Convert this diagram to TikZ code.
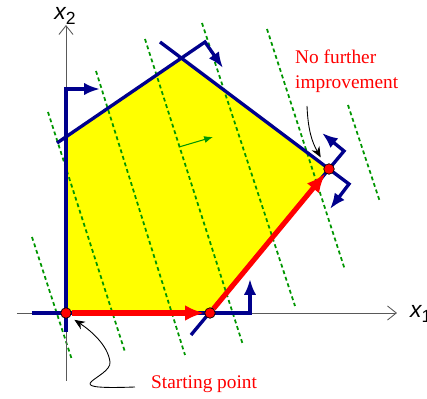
\documentclass[tikz,border=0pt]{standalone}
\usepackage{fontspec}
\setmainfont{Liberation Serif}
\newfontfamily\axisfont{Liberation Sans}
\usetikzlibrary{arrows.meta, calc}
\definecolor{boundblue}{RGB}{0,0,140}
\definecolor{isogreen}{RGB}{0,150,0}
\definecolor{regionyellow}{RGB}{255,255,0}
\tikzset{
    axis/.style={black!65, line width=0.5pt, -{Straight Barb[length=5pt,width=8pt]}},
    bound/.style={boundblue, line width=1.9pt},
    boundarrow/.style={bound, -{Latex[length=9pt,width=7pt]}},
    isoline/.style={isogreen, line width=1pt, dash pattern=on 2.2pt off 1.7pt},
    move/.style={red, line width=2.9pt, -{Latex[length=11pt,width=9pt]}},
    vertexdot/.style={circle, fill=red, draw=black, line width=0.4pt,
        inner sep=0pt, minimum size=6pt},
    note/.style={black, line width=0.5pt, -{Stealth[length=6pt,width=5pt]}},
    notetext/.style={red, font=\fontsize{11}{14}\selectfont},
}
\newcommand{\axislabel}[1]{%
    {\axisfont\itshape x}\raisebox{-0.5ex}{\axisfont\fontsize{10}{10}\selectfont #1}%
}

\begin{document}
\begin{tikzpicture}[x=0.02cm, y=-0.02cm]
    \useasboundingbox (0,0) rectangle (427,399);
    % corners of the feasible region
    \coordinate (O) at (66,313);
    \coordinate (B) at (210,313);
    \coordinate (C) at (329,169);
    \coordinate (D) at (182,58);
    \coordinate (E) at (66,137);
    \fill[regionyellow] (O) -- (B) -- (C) -- (D) -- (E) -- cycle;
    % objective isolines
    \foreach \xa/\ya/\xb/\yb in {32/237/72/360, 48/112/125/352, 96/71/185/355,
        145/39/243/345, 202/23/295/306, 267/29/345/270, 348/105/380/202}
        \draw[isoline] (\xa,\ya) -- (\xb,\yb);
    \coordinate (gradtail) at (179,147);
    \coordinate (gradhead) at (213,137);
    \draw[isogreen, line width=0.6pt, -{Latex[length=5pt,width=4pt]}] (gradtail) -- (gradhead);
    % axes
    \draw[axis] (17,313) -- (397,313);
    \draw[axis] (66,381) -- (66,25);
    \node[font=\fontsize{13}{13}\selectfont, anchor=west] (xonelab) at (404,314) {\axislabel{1}};
    \node[font=\fontsize{13}{13}\selectfont] (xtwolab) at (65,16) {\axislabel{2}};
    % constraints with their feasible sides
    \draw[boundarrow] (66,332) -- (66,89) -- (100,89);
    \draw[boundarrow] (32,313) -- (250,313) -- (250,279);
    \draw[boundarrow] (191,335) -- (344,151) -- (322,133);
    \draw[boundarrow] (160,42) -- (349,184) -- (330,209);
    \draw[boundarrow] (57,143) -- (205,42) -- (223,68);
    % simplex steps
    \node[vertexdot] (start) at (O) {};
    \node[vertexdot] (mid) at (B) {};
    \node[vertexdot] (stop) at (C) {};
    \draw[move] (start) -- (mid);
    \draw[move] (mid) -- (stop);
    % notes
    \node[notetext, anchor=west] (startlab) at (145,384) {Starting point};
    \coordinate (starttail) at (135,387);
    \draw[note, shorten >=3pt] (starttail) .. controls (50,390) and (112,378) .. (110,362)
        .. controls (108,345) and (90,330) .. (start.south east);
    \node[notetext, anchor=west, align=left] (improvelab) at (289,71) {No further\\improvement};
    \coordinate (improvetail) at (307,106);
    \draw[note, shorten >=5pt] (improvetail) .. controls (308,130) and (312,142) .. (stop.north west);
\end{tikzpicture}
\end{document}
